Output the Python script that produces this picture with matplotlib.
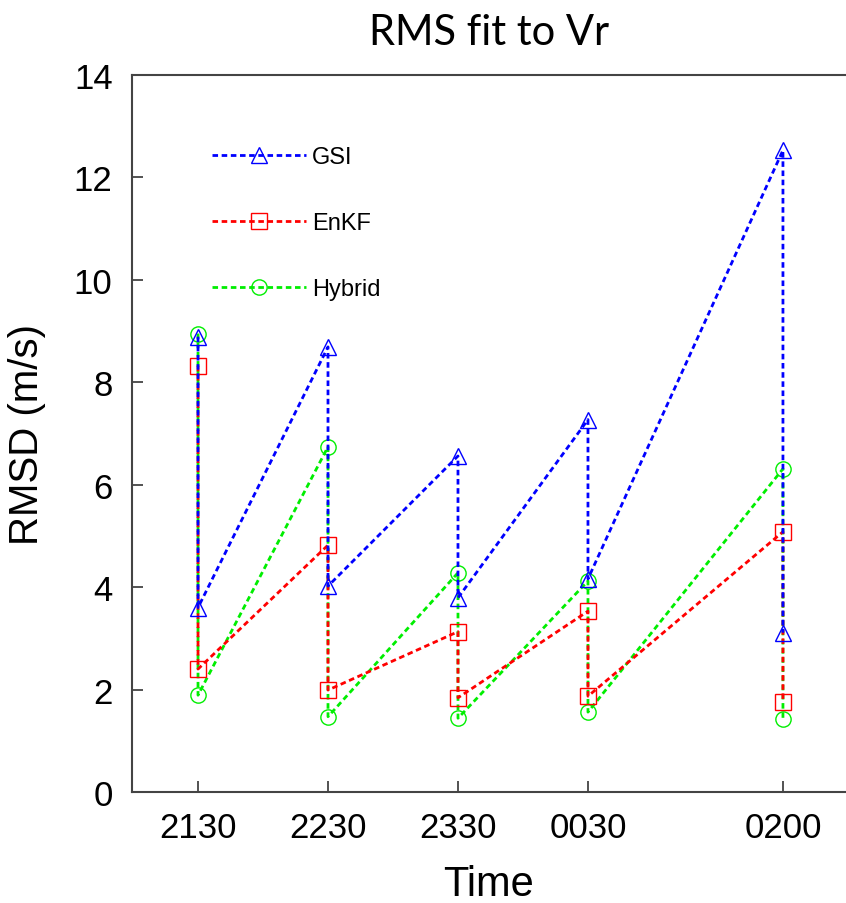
import numpy as np
import matplotlib
matplotlib.use('Agg')
import matplotlib.pyplot as plt

# Times (hours after 2130) and labels
hours = [0, 1, 2, 3, 4.5]
time_labels = ['2130', '2230', '2330', '0030', '0200']

# RMSD: forecast (before update) and analysis (after update) at each time
gsi_fcst = [8.89, 8.69, 6.56, 7.27, 12.53]
gsi_anal = [3.60, 4.02, 3.79, 4.16, 3.11]
enkf_fcst = [8.32, 4.82, 3.13, 3.53, 5.08]
enkf_anal = [2.40, 1.99, 1.84, 1.87, 1.76]
hyb_fcst = [8.95, 6.74, 4.28, 4.12, 6.31]
hyb_anal = [1.89, 1.47, 1.44, 1.56, 1.43]


def sawtooth(fcst, anal):
    # forecast then analysis at the same time -> vertical drop
    x = np.repeat(hours, 2)
    y = np.ravel(np.column_stack([fcst, anal]))
    return x, y


plt.rcParams['font.family'] = ['Liberation Sans', 'DejaVu Sans']

fig = plt.figure(figsize=(8.46, 9.04), dpi=100)
ax = fig.add_axes([0.156, 0.1228, 0.844, 0.7932])

style = dict(linestyle=(0, (2.0, 1.3)), linewidth=2.0, markerfacecolor='none',
             markeredgewidth=1.0)

x, y = sawtooth(hyb_fcst, hyb_anal)
l_hyb, = ax.plot(x, y, color='#00ee00', marker='o', markersize=11,
                 label='Hybrid', **style)
x, y = sawtooth(enkf_fcst, enkf_anal)
l_enkf, = ax.plot(x, y, color='#ff0000', marker='s', markersize=11,
                  label='EnKF', **style)
x, y = sawtooth(gsi_fcst, gsi_anal)
l_gsi, = ax.plot(x, y, color='#0000ff', marker='^', markersize=12,
                 label='GSI', **style)

ax.set_xlim(-0.508, 4.985)
ax.set_ylim(0, 14)
ax.set_xticks(hours)
ax.set_xticklabels(time_labels)
ax.set_yticks(np.arange(0, 15, 2))

for s in ['left', 'bottom', 'top']:
    ax.spines[s].set_color('#444444')
    ax.spines[s].set_linewidth(1.5)
ax.spines['right'].set_visible(False)

ax.tick_params(direction='in', length=8, width=1.3, color='#444444',
               labelsize=25)
ax.tick_params(axis='y', pad=14)
ax.tick_params(axis='x', pad=14)

ax.set_xlabel('Time', fontsize=30, labelpad=14)
ax.set_ylabel('RMSD (m/s)', fontsize=29, labelpad=20)
ax.set_title('RMS fit to Vr', fontsize=30, family=['Lato', 'DejaVu Sans'],
             pad=22)

ax.legend(handles=[l_gsi, l_enkf, l_hyb], loc='upper left',
          bbox_to_anchor=(0.112, 0.901), frameon=False, fontsize=17,
          handlelength=4.0, handletextpad=0.25, labelspacing=1.87,
          numpoints=1, borderpad=0, borderaxespad=0)

fig.savefig('out.png', dpi=100)
